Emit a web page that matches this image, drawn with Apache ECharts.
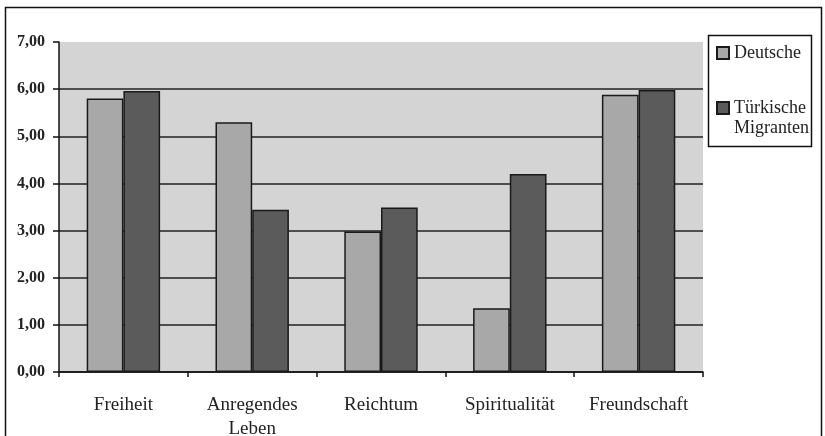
<!DOCTYPE html>
<html>
<head>
<meta charset="utf-8">
<script src="https://cdn.jsdelivr.net/npm/echarts@6/dist/echarts.min.js"></script>
<style>
  html, body { margin: 0; padding: 0; background: #fff; }
  #chart { width: 825px; height: 436px; }
</style>
</head>
<body>
<div id="chart"></div>
<script>
const categories = ['Freiheit', 'Anregendes\nLeben', 'Reichtum', 'Spiritualität', 'Freundschaft']
const deutsche = [5.80, 5.30, 2.98, 1.35, 5.88]
const tuerkisch = [5.96, 3.44, 3.49, 4.20, 5.98]
const seriesNames = ['Deutsche', 'Türkische\nMigranten']

const serif = '"Liberation Serif", "DejaVu Serif", serif'

const chart = echarts.init(document.getElementById('chart'), null, { renderer: 'canvas' })

const option = {
  backgroundColor: '#ffffff',
  animation: false,
  graphic: [
    {
      type: 'rect',
      shape: { x: 5.5, y: 7.5, width: 816, height: 440 },
      style: { fill: 'none', stroke: '#111', lineWidth: 1.5 },
      silent: true
    },
    {
      type: 'rect',
      shape: { x: 708.5, y: 35.5, width: 103, height: 111 },
      style: { fill: '#fff', stroke: '#111', lineWidth: 1.5 },
      silent: true,
      z: -1
    }
  ],
  grid: {
    left: 59,
    top: 42,
    right: 122,
    bottom: 64,
    containLabel: false,
    outerBoundsMode: 'none',
    show: true,
    backgroundColor: '#d4d4d4',
    borderWidth: 0
  },
  legend: {
    orient: 'vertical',
    left: 716,
    top: 43,
    padding: 0,
    itemGap: 15,
    itemWidth: 12,
    itemHeight: 12,
    icon: 'rect',
    textStyle: {
      fontFamily: serif,
      fontSize: 18,
      color: '#222',
      lineHeight: 20
    },
    // push the two-line label down so its first line sits next to the icon
    formatter: (name) => name === seriesNames[1] ? '\n' + name : name,
    data: seriesNames
  },
  xAxis: {
    type: 'category',
    data: categories,
    axisLine: { lineStyle: { color: '#111', width: 1.5 } },
    axisTick: { show: true, interval: 0, length: 5, alignWithLabel: false, lineStyle: { color: '#111', width: 1.5 } },
    axisLabel: {
      interval: 0,
      fontFamily: serif,
      fontSize: 19,
      color: '#222',
      margin: 21,
      lineHeight: 24
    }
  },
  yAxis: {
    type: 'value',
    min: 0,
    max: 7,
    interval: 1,
    axisLine: { show: true, lineStyle: { color: '#111', width: 1.5 } },
    axisTick: { show: true, length: 6, lineStyle: { color: '#111', width: 1.5 } },
    axisLabel: {
      fontFamily: serif,
      fontSize: 16,
      fontWeight: 'bold',
      color: '#222',
      margin: 14,
      formatter: (v) => v.toFixed(2).replace('.', ',')
    },
    splitLine: {
      show: true,
      showMaxLine: false,
      lineStyle: { color: '#222', width: 1.5 }
    }
  },
  series: [
    {
      name: seriesNames[0],
      type: 'bar',
      data: deutsche,
      barGap: '0%',
      barCategoryGap: '43%',
      itemStyle: { color: '#a8a8a8', borderColor: '#1a1a1a', borderWidth: 1.5 }
    },
    {
      name: seriesNames[1],
      type: 'bar',
      data: tuerkisch,
      itemStyle: { color: '#5b5b5b', borderColor: '#1a1a1a', borderWidth: 1.5 }
    }
  ]
}

chart.setOption(option)
</script>
</body>
</html>
